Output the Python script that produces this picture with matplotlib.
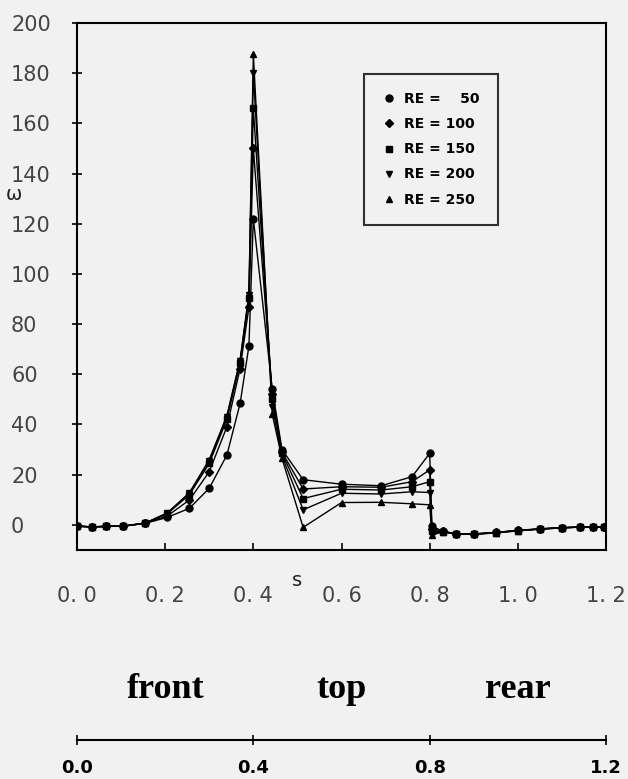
import matplotlib
matplotlib.use("Agg")
import matplotlib.pyplot as plt
import matplotlib.transforms as mtransforms
from matplotlib.lines import Line2D

# arc length s along the body surface (front -> top -> rear)
s = [0.0, 0.033, 0.066, 0.105, 0.155, 0.205, 0.255, 0.30, 0.34, 0.37, 0.39, 0.40,
     0.443, 0.465, 0.513, 0.60, 0.69, 0.76, 0.80, 0.805, 0.83, 0.86, 0.90, 0.95,
     1.0, 1.05, 1.10, 1.14, 1.17, 1.195]

# vorticity for each Reynolds number
w_re50 = [-0.5, -0.8, -0.6, -0.5, 0.6, 3.0, 6.6, 14.6, 27.8, 48.4, 71.3, 122.0,
          54.0, 30.0, 18.0, 16.2, 15.6, 19.2, 28.5, -0.5, -2.6, -3.5, -3.6, -3.0,
          -2.2, -1.6, -1.1, -0.9, -0.9, -0.9]
w_re100 = [-0.5, -0.8, -0.6, -0.5, 0.7, 3.6, 9.9, 21.2, 39.1, 62.3, 86.8, 150.0,
           52.0, 29.0, 14.3, 15.2, 15.0, 17.2, 21.9, -1.5, -2.6, -3.5, -3.6, -3.0,
           -2.2, -1.6, -1.1, -0.9, -0.9, -0.9]
w_re150 = [-0.5, -0.8, -0.6, -0.5, 0.7, 4.5, 12.0, 24.5, 42.0, 64.5, 90.5, 166.0,
           50.0, 28.5, 10.5, 14.2, 13.9, 15.2, 17.2, -2.5, -2.7, -3.6, -3.7, -3.1,
           -2.3, -1.6, -1.1, -0.9, -0.9, -0.9]
w_re200 = [-0.5, -0.8, -0.6, -0.5, 0.7, 4.7, 12.6, 25.5, 43.0, 65.3, 91.5, 180.0,
           47.0, 27.5, 6.0, 12.6, 12.3, 13.2, 12.9, -3.5, -2.8, -3.7, -3.7, -3.1,
           -2.3, -1.7, -1.2, -0.9, -0.9, -0.9]
w_re250 = [-0.5, -0.8, -0.6, -0.5, 0.7, 4.8, 12.8, 26.0, 43.5, 65.8, 92.0, 187.5,
           44.0, 26.5, -1.0, 8.9, 9.0, 8.4, 8.0, -4.0, -2.8, -3.7, -3.8, -3.2,
           -2.4, -1.7, -1.2, -0.9, -0.9, -0.9]

series = [w_re50, w_re100, w_re150, w_re200, w_re250]
labels = ['RE =  \u200750', 'RE = 100', 'RE = 150', 'RE = 200', 'RE = 250']
markers = ['o', 'D', 's', 'v', '^']
msizes = [5, 4, 4.5, 5, 5]

xticks = [0.0, 0.2, 0.4, 0.6, 0.8, 1.0, 1.2]
xticklabels = ['0. 0', '0. 2', '0. 4', '0. 6', '0. 8', '1. 0', '1. 2']
yticks = [0, 20, 40, 60, 80, 100, 120, 140, 160, 180, 200]

regions = ['front', 'top', 'rear']
region_mid = [0.2, 0.6, 1.0]
region_ticks = [0.0, 0.4, 0.8, 1.2]
region_ticklabels = ['0.0', '0.4', '0.8', '1.2']

bg = '#f1f1f1'
fig = plt.figure(figsize=(6.28, 7.79), dpi=100, facecolor=bg)
ax = fig.add_axes([0.1226, 0.294, 0.8424, 0.6765], facecolor=bg)

for w, m, ms in zip(series, markers, msizes):
    ax.plot(s, w, color='k', lw=1.0, marker=m, ms=ms, mec='k', mfc='k')

ax.set_xlim(0, 1.2)
ax.set_ylim(-10, 200)
for sp in ax.spines.values():
    sp.set_linewidth(1.5)

ax.set_xticks(xticks)
ax.set_xticklabels(xticklabels)
ax.set_yticks(yticks)
ax.tick_params(axis='x', direction='in', length=5, width=1.2, pad=26,
               labelsize=15, labelcolor='#444444')
ax.tick_params(axis='y', direction='inout', length=7, width=1.2, pad=44,
               labelsize=15, labelcolor='#444444')
for lab in ax.get_yticklabels():
    lab.set_horizontalalignment('left')

fig.text(0.5 / 1.2 * 0.8424 + 0.1226, 1 - 580 / 779, 's', fontsize=14,
         color='#222222', ha='center', va='center')
fig.text(14 / 628, 1 - 194 / 779, '\u03c9', fontsize=14,
         color='#222222', ha='center', va='center')

handles = [Line2D([], [], ls='none', marker=m, color='k', ms=ms)
           for m, ms in zip(markers, msizes)]
leg = ax.legend(handles, labels, loc='upper left', bbox_to_anchor=(0.5425, 0.903),
                borderaxespad=0, frameon=True, fancybox=False,
                prop={'weight': 'bold', 'size': 10}, labelspacing=0.8,
                borderpad=1.3, handlelength=1.0, handletextpad=0.6)
leg.get_frame().set_edgecolor('k')
leg.get_frame().set_linewidth(1.5)
leg.get_frame().set_facecolor(bg)

# region bar underneath
ax2 = fig.add_axes([0.1226, 1 - 740 / 779, 0.8424, 0.02], facecolor='none')
ax2.set_xlim(0, 1.2)
ax2.set_ylim(0, 1)
for k in ['top', 'left', 'right']:
    ax2.spines[k].set_visible(False)
ax2.spines['bottom'].set_linewidth(1.5)
ax2.set_yticks([])
ax2.set_xticks(region_ticks)
ax2.set_xticklabels(region_ticklabels)
ax2.tick_params(axis='x', direction='inout', length=7, width=1.2, pad=10,
                labelsize=13)
for lab in ax2.get_xticklabels():
    lab.set_fontweight('bold')

trans = mtransforms.blended_transform_factory(ax2.transData, fig.transFigure)
for name, xm in zip(regions, region_mid):
    ax2.text(xm, 1 - 690 / 779, name, transform=trans, ha='center', va='center',
             fontsize=26, fontweight='bold', family='Liberation Serif')

fig.savefig('out.png', dpi=100, facecolor=bg)
